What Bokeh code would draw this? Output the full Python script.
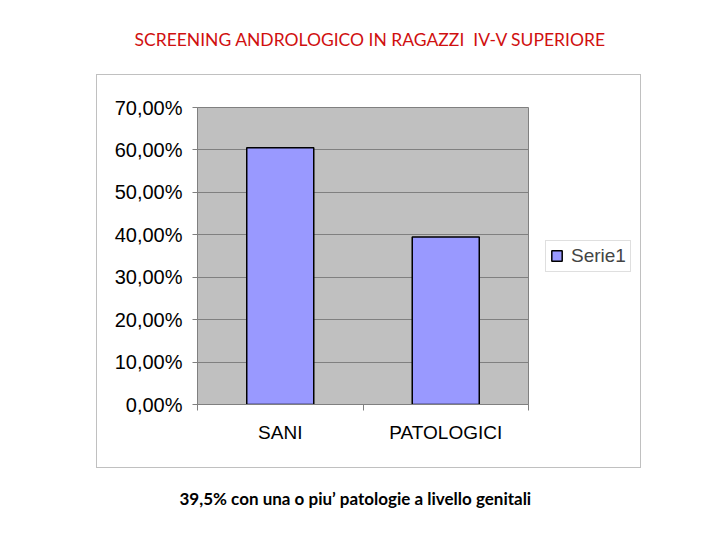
from bokeh.plotting import figure
from bokeh.models import FixedTicker, Range1d, Legend, LegendItem, Title, InlineStyleSheet
from bokeh.embed import file_html
from bokeh.resources import INLINE

# data
categories = ["SANI", "PATOLOGICI"]
values = [0.605, 0.395]
series_name = "Serie1"
y_ticks = [0.0, 0.1, 0.2, 0.3, 0.4, 0.5, 0.6, 0.7]
y_tick_labels = ["0,00%", "10,00%", "20,00%", "30,00%", "40,00%", "50,00%", "60,00%", "70,00%"]
title_text = "SCREENING ANDROLOGICO IN RAGAZZI\u00a0 IV-V SUPERIORE"
caption_text = "39,5% con una o piu\u2019 patologie a livello genitali"

x_pos = [i + 0.5 for i in range(len(categories))]

# light grey frame round the whole chart object (drawn with css, outside the plot frame)
box_css = InlineStyleSheet(css="""
:host { position: relative; }
:host::after {
  content: ""; position: absolute; left: 96px; top: 74px; width: 543px; height: 392px;
  border: 1px solid #c0c0c0; pointer-events: none;
}
""")

p = figure(frame_width=331, frame_height=297, output_backend="svg", toolbar_location=None,
           min_border_left=197, min_border_right=192, min_border_top=107, min_border_bottom=136,
           x_range=Range1d(0, len(categories)), y_range=Range1d(0, 0.7),
           stylesheets=[box_css])

p.background_fill_color = "#c0c0c0"
p.border_fill_color = "white"
p.outline_line_color = "#808080"

bars = p.vbar(x=x_pos, top=values, width=0.405, fill_color="#9999ff", line_color="black",
              line_width=1.5)

# y axis
p.yaxis.ticker = FixedTicker(ticks=y_ticks)
p.yaxis.major_label_overrides = dict(zip(y_ticks, y_tick_labels))
p.yaxis.major_label_text_font = "Liberation Sans"
p.yaxis.major_label_text_font_size = "20px"
p.yaxis.major_label_text_color = "black"
p.yaxis.axis_line_color = "#808080"
p.yaxis.major_tick_line_color = "#808080"
p.yaxis.major_tick_in = 0
p.yaxis.major_tick_out = 5
p.yaxis.minor_tick_line_color = None
p.yaxis.major_label_standoff = 10

# x axis: labels at centres, small ticks at category boundaries
p.xaxis.ticker = FixedTicker(ticks=x_pos, minor_ticks=list(range(len(categories) + 1)))
p.xaxis.major_label_overrides = dict(zip(x_pos, categories))
p.xaxis.major_label_text_font = "Liberation Sans"
p.xaxis.major_label_text_font_size = "19px"
p.xaxis.major_label_text_color = "black"
p.xaxis.axis_line_color = "#808080"
p.xaxis.major_tick_line_color = None
p.xaxis.minor_tick_line_color = "#808080"
p.xaxis.minor_tick_in = 0
p.xaxis.minor_tick_out = 6
p.xaxis.major_label_standoff = 11

p.xgrid.grid_line_color = None
p.ygrid.grid_line_color = "#808080"
p.ygrid.grid_line_width = 1

# legend to the right of the plot
lg = Legend(items=[LegendItem(label=series_name, renderers=[bars])], location="center_left")
lg.border_line_color = "#c0c0c0"
lg.background_fill_color = "white"
lg.label_text_font = "Liberation Sans"
lg.label_text_font_size = "19px"
lg.glyph_width = 13
lg.glyph_height = 13
lg.padding = 4
lg.margin = 17
lg.label_standoff = 8
p.add_layout(lg, "right")

# blank spacer title keeps the real title up near the top of the page
p.add_layout(Title(text=" ", text_font_size="1px", standoff=28), "above")
p.add_layout(Title(text=title_text, align="left", offset=-63, standoff=53,
                   text_color="#d01010", text_font="Lato", text_font_size="17.5px",
                   text_font_style="normal"), "above")
p.add_layout(Title(text=caption_text, align="left", offset=-18, standoff=80,
                   text_color="black", text_font="Lato", text_font_size="17px",
                   text_font_style="bold"), "below")

open("out.html", "w").write(file_html(p, INLINE))
